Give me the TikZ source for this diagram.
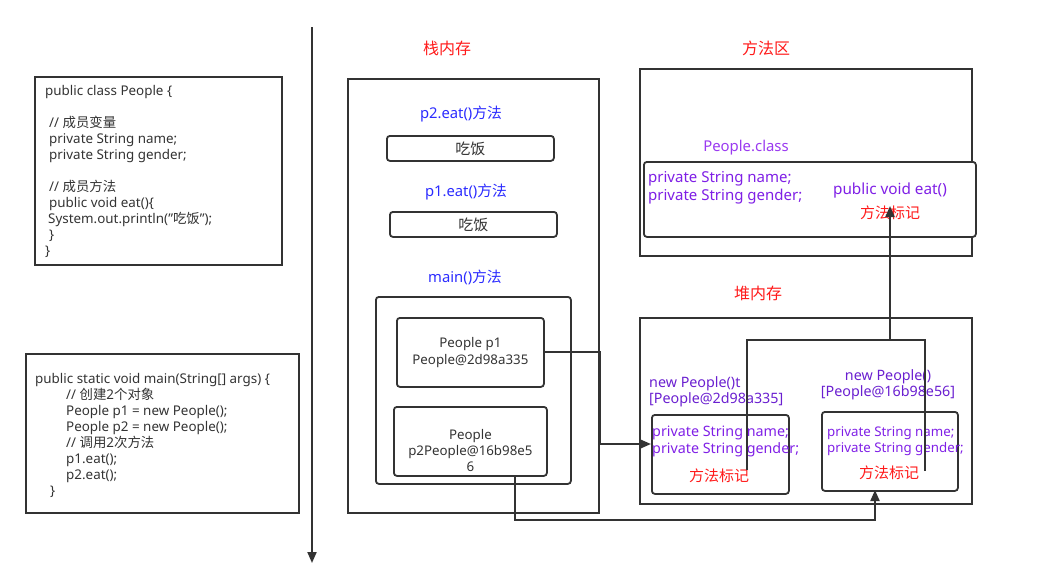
\documentclass[tikz,border=0pt]{standalone}
\usepackage{fontspec}
\setmainfont{Noto Sans}
\newfontfamily\cjk{Noto Sans CJK SC}
\usetikzlibrary{arrows.meta}
\definecolor{ink}{HTML}{333333}
\definecolor{blu}{HTML}{2B2BFF}
\definecolor{vio}{HTML}{7F1FE6}
\definecolor{lvio}{HTML}{9A3AF0}
\definecolor{dvio}{HTML}{6A1FD0}
\definecolor{redtxt}{HTML}{FF1A1A}
\newcommand{\fs}[2]{\fontsize{#1}{#2}\selectfont}
\newcommand{\zh}[1]{{\cjk #1}}
\newcommand{\dq}{\symbol{34}}
\tikzset{
  frame/.style={draw=ink, line width=1.8pt, inner sep=0pt, anchor=north west},
  rframe/.style={frame, rounded corners=3pt},
  conn/.style={draw=ink, line width=2pt},
  arr/.style={conn, -{Triangle[length=11pt,width=9pt]}},
  txt/.style={inner sep=0pt, text=ink},
  code/.style={txt, align=left, anchor=north west, font=\fs{13.4}{16}},
  title/.style={inner sep=0pt, text=redtxt, font=\fs{16}{18}\cjk},
  blab/.style={inner sep=0pt, text=blu, font=\fs{14.8}{16}},
  marktxt/.style={inner sep=0pt, text=redtxt, font=\fs{15}{16}\cjk},
}
\begin{document}
\begin{tikzpicture}[x=1pt,y=-1pt]
\useasboundingbox (0,0) rectangle (1039,587);

% timeline
\coordinate (t0) at (312,27);
\coordinate (t1) at (312,563);
\draw[arr] (t0) -- (t1);

% source code boxes
\node[frame, minimum width=247pt, minimum height=188pt] (cls) at (34,76) {};
\node[code] (clstxt) at (45,85) {public class People \{\\[16pt]
\hspace{4pt}// \zh{成员变量}\\
\hspace{4pt}private String name;\\
\hspace{4pt}private String gender;\\[16pt]
\hspace{4pt}// \zh{成员方法}\\
\hspace{4pt}public void eat()\{\\
\hspace{3pt}System.out.println(\dq\zh{吃饭}\dq);\\
\hspace{4pt}\}\\
\}};

\node[frame, minimum width=273pt, minimum height=159pt] (mainsrc) at (25,353) {};
\node[code] (maintxt) at (35,373) {public static void main(String[] args) \{\\
\hspace{31pt}// \zh{创建}2\zh{个对象}\\
\hspace{31pt}People p1 = new People();\\
\hspace{31pt}People p2 = new People();\\
\hspace{31pt}// \zh{调用}2\zh{次方法}\\
\hspace{31pt}p1.eat();\\
\hspace{31pt}p2.eat();\\
\hspace{15pt}\}};

% stack memory
\node[title] (stacklbl) at (447,48) {栈内存};
\node[frame, minimum width=251pt, minimum height=434pt] (stack) at (347,78) {};
\node[blab] (f2lbl) at (461,114) {p2.eat()\zh{方法}};
\node[rframe, minimum width=167pt, minimum height=25pt] (f2) at (386,135) {};
\node[txt, font=\fs{15}{16}\cjk] at (f2.center) {吃饭};
\node[blab] (f1lbl) at (466,192) {p1.eat()\zh{方法}};
\node[rframe, minimum width=167pt, minimum height=25pt] (f1) at (389,211) {};
\node[txt, font=\fs{15}{16}\cjk] at (f1.center) {吃饭};
\node[blab] (mlbl) at (465,277) {main()\zh{方法}};
\node[rframe, minimum width=195pt, minimum height=187pt] (mframe) at (375,296) {};
\node[rframe, minimum width=147pt, minimum height=69pt] (p1) at (396,317) {};
\node[txt, align=center, font=\fs{13.3}{17}] at (p1.center) {People p1\\People@2d98a335};
\node[rframe, minimum width=153pt, minimum height=69pt] (p2) at (393,406) {};
\node[txt, align=center, font=\fs{13.3}{16}] at ([yshift=-9pt]p2.center) {People\\p2People@16b98e5\\6};

% method area
\node[title] (malbl) at (766,48) {方法区};
\node[frame, minimum width=332pt, minimum height=187pt] (marea) at (639,68) {};
\node[inner sep=0pt, text=lvio, font=\fs{14.9}{16}] (clsname) at (746,148) {People.class};
\node[rframe, fill=white, minimum width=332pt, minimum height=75pt] (clsbox) at (643,161) {};
\node[inner sep=0pt, text=vio, align=left, anchor=north west, font=\fs{15}{18}] at (648,171) {private String name;\\private String gender;};
\node[inner sep=0pt, text=vio, font=\fs{15.3}{16}] (eatm) at (890,191) {public void eat()};
\node[marktxt] (eatmark) at (890,213) {方法标记};

% heap memory
\node[title] (heaplbl) at (758,293) {堆内存};
\node[frame, minimum width=332pt, minimum height=186pt] (heap) at (639,317) {};
\node[inner sep=0pt, text=dvio, align=left, anchor=north west, font=\fs{14.3}{16}] at (649,376) {new People()t\\{[}People@2d98a335{]}};
\node[inner sep=0pt, text=dvio, align=center, font=\fs{14.3}{16}] at (888,385) {new People()\\{[}People@16b98e56{]}};
\node[rframe, minimum width=137pt, minimum height=79pt] (objA) at (651,414) {};
\node[inner sep=0pt, text=vio, align=left, anchor=north west, font=\fs{14.3}{17}] at (652,426) {private String name;\\private String gender;};
\node[marktxt] (markA) at (719,476) {方法标记};
\node[rframe, minimum width=136pt, minimum height=79pt] (objB) at (821,411) {};
\node[inner sep=0pt, text=vio, align=left, anchor=north west, font=\fs{13.3}{16}] at (827,426) {private String name;\\private String gender;};
\node[marktxt] (markB) at (889,473) {方法标记};

% references from the stack into the heap
\coordinate (inA) at (651,444);
\draw[arr] (p1.east) -- (p1.east -| stack.east) |- (inA);
\coordinate (outB) at (485,476);
\coordinate (inB) at (875,490);
\draw[arr] (outB) -- (515,476) -- (515,520) -| (inB);

% objects point back to the method mark in the class
\coordinate (srcA) at (747,470);
\coordinate (srcB) at (925,471);
\coordinate (join) at (890,340);
\coordinate (tgt) at (890,206);
\draw[conn] (srcA) |- (join);
\draw[conn] (srcB) |- (join);
\draw[arr] (join) -- (tgt);
\end{tikzpicture}
\end{document}
